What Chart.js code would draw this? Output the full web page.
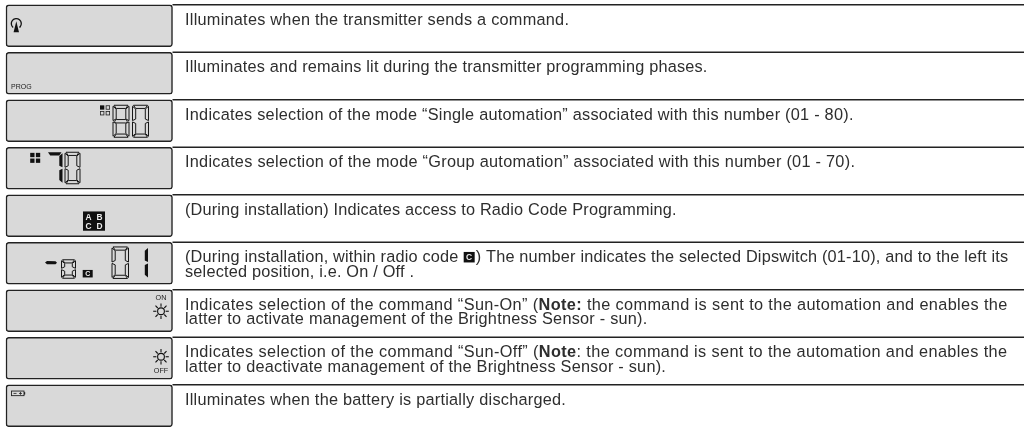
<!DOCTYPE html>
<html><head><meta charset="utf-8">
<style>html,body{margin:0;padding:0;background:#fff;overflow:hidden}canvas{display:block}</style>
<script src="https://cdn.jsdelivr.net/npm/chart.js@4"></script>
</head><body><canvas id="c" width="1024" height="430"></canvas>
<script>
const rows = ["signal","prog","single","group","radio","dip","sunOn","sunOff","battery"];
const panelSpan = [6, 172.5];
const panels = rows.map(() => panelSpan);
const descriptions = [
 ["Illuminates when the transmitter sends a command."],
 ["Illuminates and remains lit during the transmitter programming phases."],
 ["Indicates selection of the mode “Single automation” associated with this number (01 - 80)."],
 ["Indicates selection of the mode “Group automation” associated with this number (01 - 70)."],
 ["(During installation) Indicates access to Radio Code Programming."],
 ["(During installation, within radio code [C]) The number indicates the selected Dipswitch (01-10), and to the left its","selected position, i.e. On / Off ."],
 ["Indicates selection of the command “Sun-On” (**Note:** the command is sent to the automation and enables the","latter to activate management of the Brightness Sensor - sun)."],
 ["Indicates selection of the command “Sun-Off” (**Note**: the command is sent to the automation and enables the","latter to deactivate management of the Brightness Sensor - sun)."],
 ["Illuminates when the battery is partially discharged."]
];
const tracking = [[.25],[.2],[.25],[.27],[.17],[.19,.2],[.375,.235],[.38,.235],[.24]];
const FONT = '"Liberation Sans", Arial, sans-serif';
const INK = '#1c1c1c';
const SEG = {'0':'abcdef','8':'abcdefg','7':'abc','1':'bc'};

function poly(c,p){c.beginPath();p.forEach((q,i)=>i?c.lineTo(q[0],q[1]):c.moveTo(q[0],q[1]));c.closePath();}
function digit(c,x,y,w,h,ch,solid){
  const t=3.2,m=y+h/2,r=x+w,b=y+h;
  const s={
   a:[[x+1,y],[r-1,y],[r-t,y+t],[x+t,y+t]],
   b:[[r,y+1],[r,m-.7],[r-t,m-2.2],[r-t,y+t+.6]],
   c:[[r,m+.7],[r,b-1],[r-t,b-t-.6],[r-t,m+2.2]],
   d:[[x+1,b],[r-1,b],[r-t,b-t],[x+t,b-t]],
   e:[[x,m+.7],[x,b-1],[x+t,b-t-.6],[x+t,m+2.2]],
   f:[[x,y+1],[x,m-.7],[x+t,m-2.2],[x+t,y+t+.6]],
   g:[[x+1.5,m],[x+t,m-1.7],[r-t,m-1.7],[r-1.5,m],[r-t,m+1.7],[x+t,m+1.7]]
  };
  for(const k of SEG[ch]){
    poly(c,s[k]);
    if(solid){c.fillStyle='#111';c.fill();}
    else{c.fillStyle='#d9d9d9';c.fill();c.lineWidth=1;c.strokeStyle='#161616';c.stroke();}
  }
}
function txt(c,s,x,y,font,col,al){c.font=font;c.fillStyle=col||INK;c.textAlign=al||'left';c.textBaseline='alphabetic';c.fillText(s,x,y);}
function sun(c,cx,cy){
  c.strokeStyle='#111';c.lineWidth=1.1;
  c.beginPath();c.arc(cx,cy,3.4,0,Math.PI*2);c.stroke();
  for(let i=0;i<8;i++){const a=i*Math.PI/4;c.beginPath();c.moveTo(cx+Math.cos(a)*4.6,cy+Math.sin(a)*4.6);c.lineTo(cx+Math.cos(a)*7.8,cy+Math.sin(a)*7.8);c.stroke();}
}
function squares(c,x,y,filled){
  const s=4.3,g=1.4;
  [[0,0],[1,0],[0,1],[1,1]].forEach(([i,j],n)=>{
    const px=x+i*(s+g),py=y+j*(s+g);
    if(filled===true||n===0){c.fillStyle='#111';c.fillRect(px,py,s,s);}
    else{c.strokeStyle='#222';c.lineWidth=.8;c.strokeRect(px+.4,py+.4,s-.8,s-.8);}
  });
}
const icons={
 signal(c,t){
   c.strokeStyle='#111';c.lineWidth=1.3;c.beginPath();c.arc(16.3,t+18.8,5,Math.PI*.72,Math.PI*2.28,false);c.stroke();
   poly(c,[[16.3,t+16.5],[19,t+27.5],[13.6,t+27.5]]);c.fillStyle='#111';c.fill();
 },
 prog(c,t){txt(c,'PROG',11,t+36.4,'7px '+FONT,'#222');},
 single(c,t){squares(c,100,t+5.6,false);digit(c,113,t+5.5,16,32,'8');digit(c,132.5,t+5.5,16,32,'0');},
 group(c,t){squares(c,30.2,t+5.6,true);digit(c,47,t+5,15.5,31.5,'7',true);digit(c,65,t+5,15,31.5,'0');},
 radio(c,t){
   c.fillStyle='#111';c.fillRect(83,t+16.7,22,19.3);
   const f='bold 8.4px '+FONT;
   txt(c,'A',88.5,t+25.3,f,'#eee','center');txt(c,'B',99.5,t+25.3,f,'#eee','center');
   txt(c,'C',88.5,t+34.4,f,'#eee','center');txt(c,'D',99.5,t+34.4,f,'#eee','center');
 },
 dip(c,t){
   poly(c,[[45,t+20.2],[47,t+18.7],[55.5,t+19],[57,t+20.5],[55.5,t+22],[47,t+22]]);c.fillStyle='#111';c.fill();
   digit(c,61.5,t+17.5,14,18.5,'0');
   c.fillStyle='#111';c.fillRect(82.7,t+27.7,10,7.5);
   txt(c,'C',87.7,t+34,'bold 7px '+FONT,'#eee','center');
   digit(c,112,t+4.7,16.5,31.5,'0');
   digit(c,133,t+4.7,15,31.5,'1',true);
 },
 sunOn(c,t){txt(c,'ON',161,t+10,'7.2px '+FONT,'#222','center');sun(c,161,t+21.5);},
 sunOff(c,t){sun(c,161,t+19.5);txt(c,'OFF',161,t+35.7,'7.2px '+FONT,'#222','center');},
 battery(c,t){
   c.strokeStyle='#222';c.lineWidth=.9;c.strokeRect(11.5,t+6.3,12.5,4.6);
   c.fillStyle='#222';c.fillRect(24,t+7.4,1.2,2.4);
   c.fillRect(13.5,t+8.2,3,.8);c.fillRect(19,t+8.2,3,.8);c.fillRect(20.1,t+7.2,.8,2.8);
 }
};
const artPlugin={
 id:'art',
 afterDatasetsDraw(ch){
  const c=ch.ctx,x=ch.scales.x,y=ch.scales.y;
  c.save();
  rows.forEach((r,i)=>{
    const top=y.getPixelForValue(i)-21;
    c.strokeStyle='#222';c.lineWidth=1.3;c.beginPath();c.moveTo(x.getPixelForValue(panelSpan[1]),top);c.lineTo(x.getPixelForValue(1024),top);c.stroke();
    c.letterSpacing='0px';
    icons[r](c,top);
    descriptions[i].forEach((ln,k)=>{
      const sp=tracking[i][k]+'px';
      c.letterSpacing=sp;
      let px=x.getPixelForValue(185),by=top+20.2+k*14.4;
      ln.split(/(\*\*.*?\*\*|\[C\])/).filter(Boolean).forEach(part=>{
        if(part==='[C]'){
          c.fillStyle='#111';c.fillRect(px+.5,by-10.5,11,10.5);
          c.letterSpacing='0px';
          txt(c,'C',px+6,by-2.2,'bold 8.5px '+FONT,'#eee','center');
          c.letterSpacing=sp;
          px+=12.5;return;
        }
        const bold=part.startsWith('**');const s=bold?part.slice(2,-2):part;
        const f=(bold?'bold ':'')+'16.3px '+FONT;
        txt(c,s,px,by,f,'#2e2e2e');px+=c.measureText(s).width;
      });
    });
    c.letterSpacing='0px';
  });
  c.restore();
 }
};
new Chart(document.getElementById('c'),{
 type:'bar',
 data:{labels:rows,datasets:[{data:panels,backgroundColor:'#d9d9d9',borderColor:'#222',borderWidth:1.5,borderRadius:3,borderSkipped:false,barThickness:42}]},
 options:{
  indexAxis:'y',responsive:false,animation:false,
  layout:{padding:{top:2,bottom:.5,left:0,right:0}},
  plugins:{legend:{display:false},tooltip:{enabled:false}},
  scales:{x:{type:'linear',min:0,max:1024,display:false},y:{type:'category',display:false}}
 },
 plugins:[artPlugin]
});
</script></body></html>
